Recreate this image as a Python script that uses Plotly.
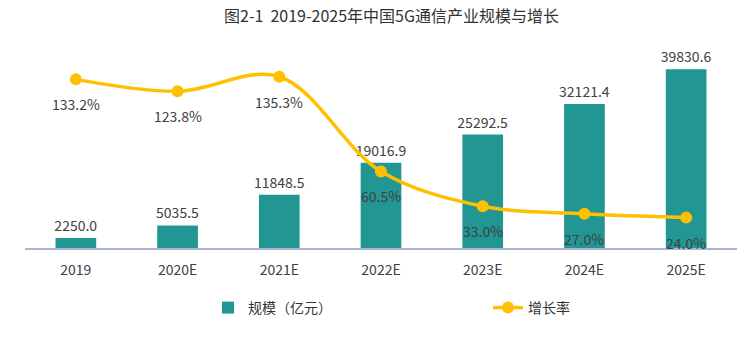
import plotly.graph_objects as go

years = ["2019", "2020E", "2021E", "2022E", "2023E", "2024E", "2025E"]
scale = [2250.0, 5035.5, 11848.5, 19016.9, 25292.5, 32121.4, 39830.6]
growth = [133.2, 123.8, 135.3, 60.5, 33.0, 27.0, 24.0]

FONT = "Noto Sans CJK SC"
TEAL = "#229693"
GOLD = "#FFC000"
TXT = "#404040"

fig = go.Figure()
fig.add_trace(go.Bar(
    x=years, y=scale, name="规模（亿元）", marker=dict(color=TEAL, line=dict(width=0)),
    width=0.4, text=[f"{v:.1f}" for v in scale], textposition="outside",
    constraintext="none", legend="legend",
    textfont=dict(family=FONT, size=14, color=TXT), cliponaxis=False,
))
fig.add_trace(go.Scatter(
    x=years, y=growth, name="增长率", yaxis="y2", mode="lines+markers",
    line=dict(color=GOLD, width=3.5, shape="spline", smoothing=1.0),
    marker=dict(color=GOLD, size=12), legend="legend2",
))
for i, g in enumerate(growth):
    fig.add_annotation(x=i, y=g, xref="x", yref="y2", text=f"{g:.1f}%",
                       showarrow=False, yshift=-25,
                       font=dict(family=FONT, size=14, color=TXT))

leg_common = dict(orientation="h", xref="container", yref="container",
                  xanchor="left", yanchor="middle", y=(337 - 308) / 337,
                  font=dict(family=FONT, size=14, color="#333333"),
                  bgcolor="rgba(0,0,0,0)")

fig.update_layout(
    width=750, height=337,
    margin=dict(l=25, r=13, t=50, b=89, autoexpand=False),
    paper_bgcolor="white", plot_bgcolor="white",
    font=dict(family=FONT, color=TXT),
    title=dict(text="图2-1  2019-2025年中国5G通信产业规模与增长", x=0.522, xanchor="center",
               y=0.95, yanchor="middle", font=dict(family=FONT, size=16, color="#333333")),
    xaxis=dict(type="category", range=[-0.5, len(years) - 0.5], showline=True,
               linecolor="#A9B5D0", linewidth=2, ticks="",
               tickfont=dict(family=FONT, size=14, color=TXT), showgrid=False,
               ticklabelstandoff=8),
    yaxis=dict(range=[0, 44130], visible=False, showgrid=False),
    yaxis2=dict(range=[0, 156.4], overlaying="y", visible=False, showgrid=False),
    showlegend=True,
    legend=dict(x=208 / 750, **leg_common),
    legend2=dict(x=488 / 750, **leg_common),
    bargap=0.6,
)
fig.write_html("out.html")
